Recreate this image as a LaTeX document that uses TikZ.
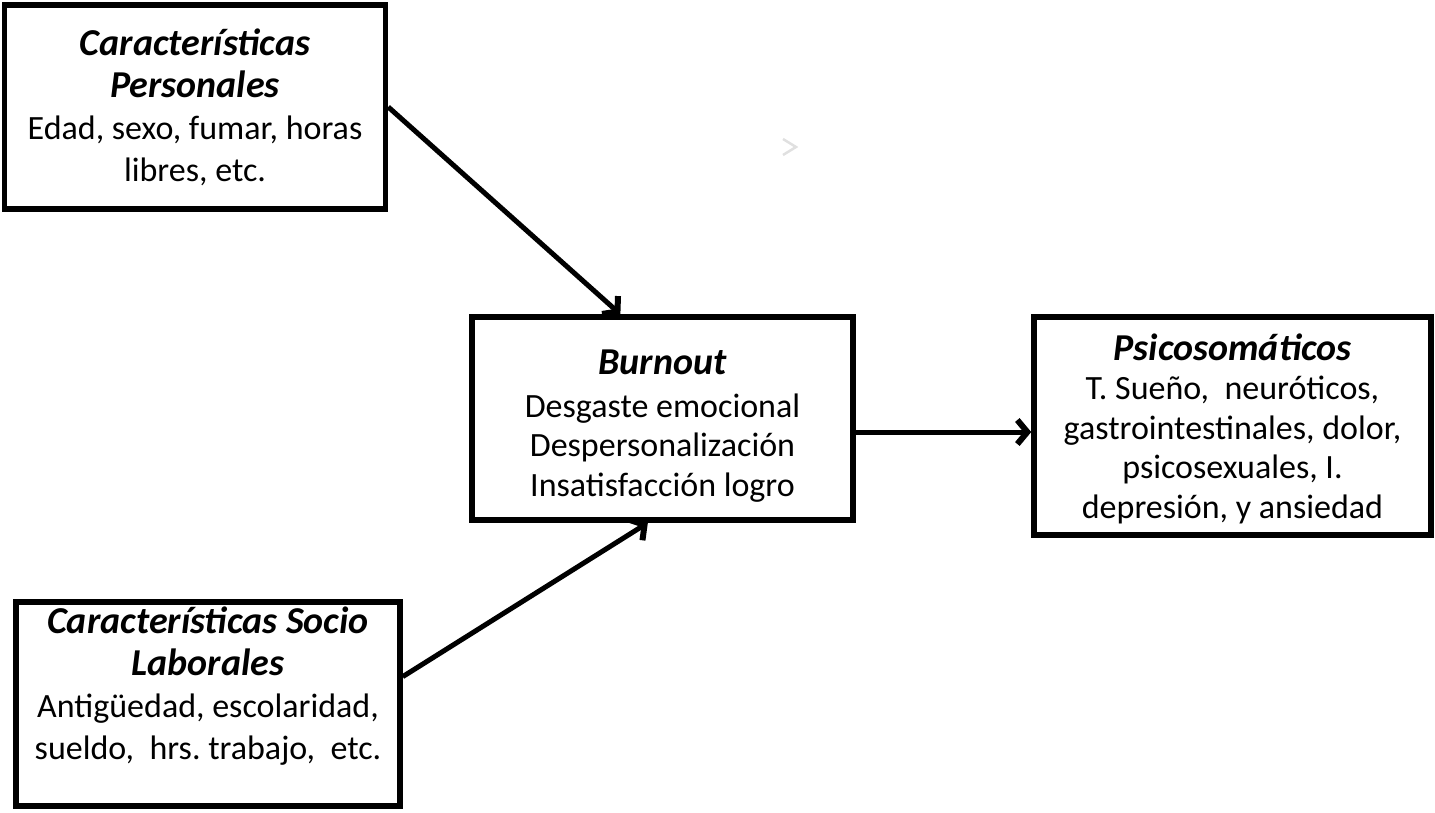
\documentclass[tikz,border=0pt]{standalone}
\usepackage{fontspec}
\setmainfont{Carlito}
\usetikzlibrary{arrows.meta}

\begin{document}
\begin{tikzpicture}[x = 1pt, y = -1pt,
	box/.style = {draw, line width = 5.5pt, align = center, inner sep = 0pt},
	link/.style = {line width = 5pt, -{Straight Barb[length = 10pt, width = 24pt, line width = 6pt]}},
	big/.style = {font = \fontsize{34}{42}\selectfont},
	small/.style = {font = \fontsize{34}{39.5}\selectfont}]

	\newcommand{\boxtitle}[1]{{\fontsize{38}{0}\selectfont\bfseries\itshape #1}}

	\useasboundingbox (0, 0) rectangle (1435, 813);

	% Boxes

	\node [box, big, minimum width = 381pt, minimum height = 204pt] (personales) at (195, 107)
		{\boxtitle{Características}\\ \boxtitle{Personales}\\ Edad, sexo, fumar, horas\\ libres, etc.};

	\node [box, small, minimum width = 381pt, minimum height = 203pt] (burnout) at (662.5, 418.5)
		{\rule{0pt}{40pt}\boxtitle{Burnout}\\[3pt] Desgaste emocional\\ Despersonalización\\ Insatisfacción logro};

	\node [box, small, minimum width = 397pt, minimum height = 218pt] (psico) at (1232.5, 426)
		{\rule{0pt}{32pt}\boxtitle{Psicosomáticos}\\ T. Sueño,~ neuróticos,\\ gastrointestinales, dolor,\\ psicosexuales, I.\\ depresión, y ansiedad};

	\node [box, big, minimum width = 384pt, minimum height = 204pt] (socio) at (208, 704)
		{\boxtitle{Características Socio}\\ \boxtitle{Laborales}\\ Antigüedad, escolaridad,\\ sueldo,~ hrs.\ trabajo,~ etc.\\ \mbox{}};

	% Arrows

	\draw [link] (personales.east) -- (burnout.112);
	\draw [link] (socio.8) -- (burnout.262);
	\draw [link] (burnout.-4) -- (burnout.-4 -| psico.west);

	% Stray tip

	\draw [black!12, line width = 2.5pt] (783, 139) -- (796, 147) -- (783, 155);

\end{tikzpicture}
\end{document}
